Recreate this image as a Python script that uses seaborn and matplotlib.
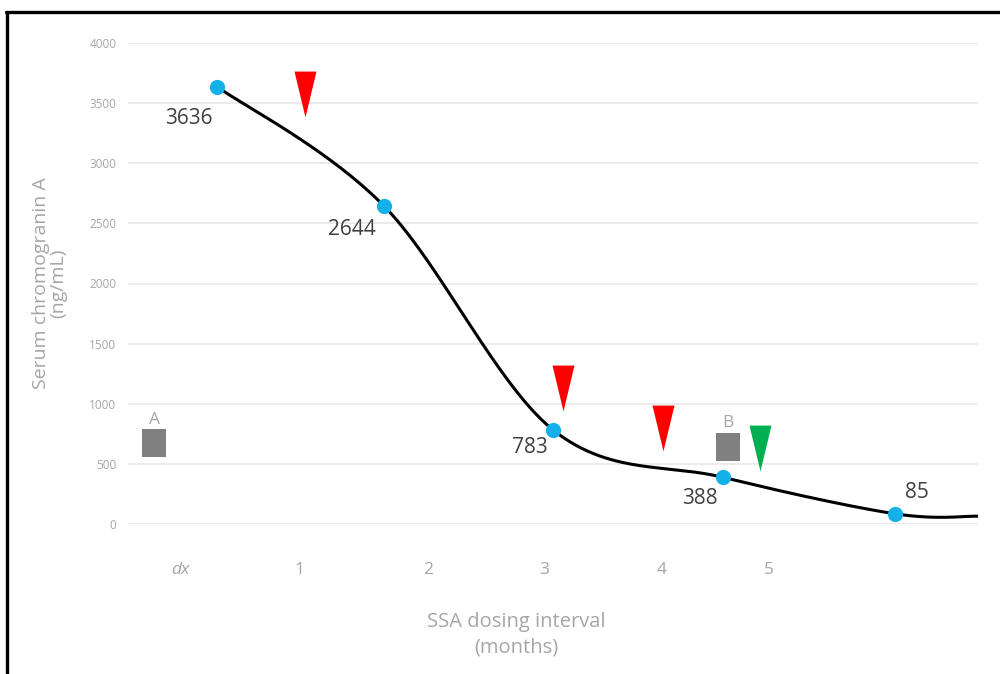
import numpy as np
import matplotlib
matplotlib.use("Agg")
import matplotlib.pyplot as plt
from matplotlib.lines import Line2D
import seaborn as sns

# chromogranin A measurements (x in dosing-interval units, dx = 0)
cga_x = [0.314, 1.729, 3.161, 4.602, 6.059]
cga_y = [3636, 2644, 783, 388, 85]
cga_labels = ["3636", "2644", "783", "388", "85"]
# the smoothed line runs on to the right edge of the plot
tail_x = 6.763
tail_y = 65

# x axis categories
tick_pos = [0, 1.01, 2.1, 3.09, 4.08, 4.99]
tick_labels = ["dx", "1", "2", "3", "4", "5"]

# events: red / green arrows, grey boxes A and B
red_x = [1.062, 3.242, 4.096]
red_y = [3574, 1133, 802]
green_x = [4.917]
green_y = [628]
box_x = [-0.219, 4.647]
box_y = [671, 642]
box_labels = ["A", "B"]


def smooth(xs, ys, n=60):
    # Catmull-Rom style bezier, like a spreadsheet "smoothed line"
    p = np.column_stack([xs, ys]).astype(float)
    pts = np.vstack([p[0], p, p[-1]])
    out = []
    t = np.linspace(0, 1, n)[:, None]
    for i in range(1, len(pts) - 2):
        p0, p1, p2, p3 = pts[i - 1], pts[i], pts[i + 1], pts[i + 2]
        b1 = p1 + (p2 - p0) / 6
        b2 = p2 - (p3 - p1) / 6
        seg = ((1 - t) ** 3) * p1 + 3 * ((1 - t) ** 2) * t * b1 + 3 * (1 - t) * t ** 2 * b2 + t ** 3 * p2
        out.append(seg)
    seg = np.vstack(out)
    return seg[:, 0], seg[:, 1]


sns.set_theme(style="white")
plt.rcParams["font.family"] = ["Open Sans", "DejaVu Sans"]

grey_txt = "#a6a6a6"

fig = plt.figure(figsize=(10, 6.74), dpi=100)
ax = fig.add_axes([0.128, 1 - 524 / 674, 0.85, 481 / 674])

line_x, line_y = smooth(cga_x + [tail_x], cga_y + [tail_y])
sns.lineplot(x=line_x, y=line_y, sort=False, estimator=None, color="black",
             linewidth=2.2, ax=ax, zorder=3)
sns.scatterplot(x=cga_x, y=cga_y, color="#13b0ea", s=120, linewidth=0, ax=ax, zorder=4)

tri = [(-0.48, 1), (0.48, 1), (0, -1)]
sns.scatterplot(x=red_x, y=red_y, marker=tri, color="#ff0000", s=33 ** 2,
                linewidth=0, ax=ax, zorder=5)
sns.scatterplot(x=green_x, y=green_y, marker=tri, color="#00b050", s=33 ** 2,
                linewidth=0, ax=ax, zorder=5)
rect = [(-0.42, -0.5), (0.42, -0.5), (0.42, 0.5), (-0.42, 0.5)]
sns.scatterplot(x=box_x, y=box_y, marker=rect, color="#808080", s=20 ** 2,
                linewidth=0, ax=ax, zorder=5)

for bx, by, lab in zip(box_x, box_y, box_labels):
    ax.annotate(lab, (bx, by), xytext=(0, 17), textcoords="offset points",
                ha="center", va="center", fontsize=12.5, color=grey_txt)

offsets = [(-20, -23), (-23, -17), (-17, -13), (-17, -15), (16, 15)]
for px, py, lab, off in zip(cga_x, cga_y, cga_labels, offsets):
    ax.annotate(lab, (px, py), xytext=off, textcoords="offset points",
                ha="center", va="center", fontsize=15, color="#404040")

ax.set_xlim(-0.441, 6.763)
ax.set_ylim(0, 4000)
ax.set_yticks(np.arange(0, 4001, 500))
ax.set_xticks(tick_pos)
ax.set_xticklabels(tick_labels)
ax.get_xticklabels()[0].set_style("italic")
ax.grid(axis="y", color="#e6e6e6", linewidth=1.1)
ax.grid(axis="x", visible=False)
sns.despine(ax=ax, left=True, bottom=True)
ax.tick_params(axis="y", length=0, pad=8.5, labelsize=8.5, labelcolor=grey_txt)
ax.tick_params(axis="x", length=0, pad=27, labelsize=12.5, labelcolor=grey_txt)

ax.set_ylabel("Serum chromogranin A\n(ng/mL)", fontsize=14, color=grey_txt,
              linespacing=1.0)
ax.yaxis.set_label_coords(-0.071, 0.5)
ax.set_xlabel("SSA dosing interval\n(months)", fontsize=14.5, color=grey_txt,
              linespacing=1.4)
ax.xaxis.set_label_coords(0.457, -0.182)

# black frame on the left and top edges
fig.add_artist(Line2D([0.007, 0.007], [0, 1 - 12 / 674], color="black", linewidth=2.4))
fig.add_artist(Line2D([0.006, 1], [1 - 12 / 674, 1 - 12 / 674], color="black", linewidth=2.4))

fig.savefig("out.png", dpi=100)
